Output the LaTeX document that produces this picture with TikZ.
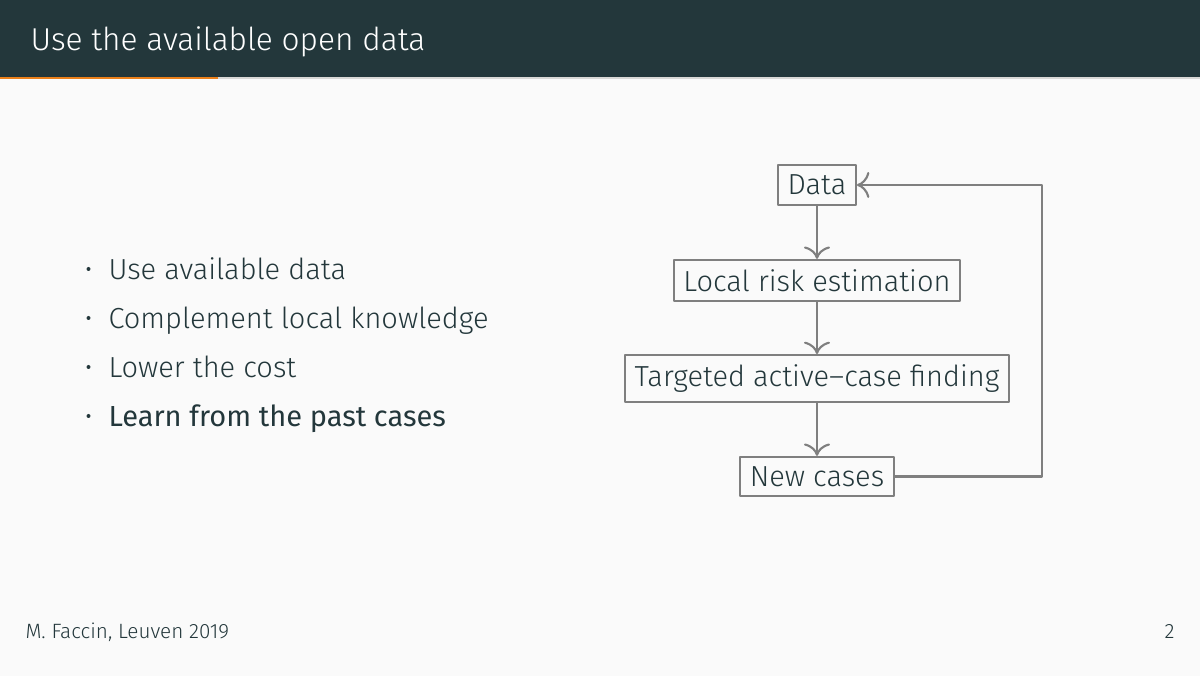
\documentclass[tikz,border=0pt]{standalone}
\usepackage{fontspec}
\setmainfont{Fira Sans}[UprightFont=* Light]
\newfontfamily\firabook{Fira Sans}
\usetikzlibrary{positioning,arrows.meta}
\definecolor{mDark}{HTML}{23373B}
\definecolor{mOrange}{HTML}{EB811B}
\definecolor{mBg}{HTML}{FAFAFA}
\definecolor{mBar}{HTML}{D8D8D6}
\definecolor{boxgray}{HTML}{7F7F7F}
\tikzset{
  stepbox/.style={draw=boxgray, line width=0.8pt, text=mDark, inner sep=3.6pt},
  flow/.style={->, draw=boxgray, line width=0.8pt},
  item/.style={anchor=base west, text=mDark, inner sep=0pt}
}
\begin{document}
\begin{tikzpicture}[x=0.13333mm, y=-0.13333mm, >={To[scale=1.4]}, font=\fontsize{11}{13}\selectfont, line join=round, line cap=round]
  \def\W{1200} \def\H{676} % Slide size in px
  \def\cx{817} % Flow column
  % background and frame title
  \fill[mBg] (0,0) rectangle (\W,\H);
  \useasboundingbox (0,0) rectangle (\W,\H);
  \fill[mDark] (0,0) rectangle (\W,77.5);
  \fill[mBar] (0,77.5) rectangle (\W,79);
  \fill[mOrange] (0,77.5) rectangle (218,79);
  \node[anchor=base west, text=white, inner sep=0pt, font=\fontsize{12}{15}\selectfont] (title) at (30,51) {Use the available open data};
  % bullets
  \foreach \t/\y in {Use available data/280, Complement local knowledge/329, Lower the cost/378} {
    \node[item] at (108,\y) {\t};
    \fill[mDark] (88.5,\y-11) circle (2);
  }
  \node[item] (past) at (108,427) {\firabook Learn from the past cases};
  \fill[mDark] (88.5,416) circle (2);
  % flow chart
  \node[stepbox] (data) at (\cx,185) {Data};
  \node[stepbox] (risk) at (\cx,280.5) {Local risk estimation};
  \node[stepbox] (find) at (\cx,378.5) {Targeted active--case finding};
  \node[stepbox] (new) at (\cx,476.5) {New cases};
  \draw[flow] (data) -- (risk);
  \draw[flow] (risk) -- (find);
  \draw[flow] (find) -- (new);
  \coordinate (loop) at (1042,0);
  \draw[flow] (new.east) -| (loop |- data.east) -- (data.east);
  % footer
  \node[anchor=base west, text=mDark, inner sep=0pt, font=\fontsize{7.85}{10}\selectfont] (foot) at (25,639) {M. Faccin, Leuven 2019};
  \node[anchor=base east, text=mDark, inner sep=0pt, font=\fontsize{7.85}{10}\selectfont] (page) at (1175,639) {2};
\end{tikzpicture}
\end{document}
